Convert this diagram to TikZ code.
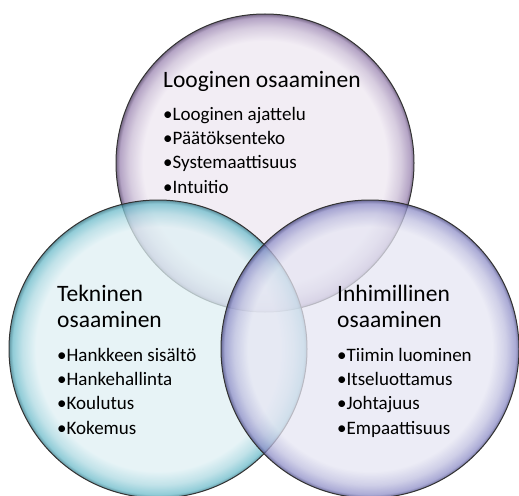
\documentclass[tikz,border=0pt]{standalone}
\usepackage{fontspec}
\setmainfont{Carlito}
\usetikzlibrary{positioning}

\definecolor{topfill}{HTML}{EEE7F1}
\definecolor{topedge}{HTML}{9C86B2}
\definecolor{topdark}{HTML}{4E3A64}
\definecolor{leftfill}{HTML}{DFF0F4}
\definecolor{leftedge}{HTML}{6DBCCB}
\definecolor{leftdark}{HTML}{2E7585}
\definecolor{rightfill}{HTML}{E6E6F3}
\definecolor{rightedge}{HTML}{8F8FC8}
\definecolor{rightdark}{HTML}{42427E}

\pgfdeclareradialshading{topball}{\pgfpoint{0bp}{0bp}}{color(0bp)=(topfill); color(20.5bp)=(topfill); color(22.8bp)=(topfill!55!topedge); color(24.4bp)=(topedge); color(25bp)=(topdark); color(50bp)=(topdark)}
\pgfdeclareradialshading{leftball}{\pgfpoint{0bp}{0bp}}{color(0bp)=(leftfill); color(20.5bp)=(leftfill); color(22.8bp)=(leftfill!55!leftedge); color(24.4bp)=(leftedge); color(25bp)=(leftdark); color(50bp)=(leftdark)}
\pgfdeclareradialshading{rightball}{\pgfpoint{0bp}{0bp}}{color(0bp)=(rightfill); color(20.5bp)=(rightfill); color(22.8bp)=(rightfill!55!rightedge); color(24.4bp)=(rightedge); color(25bp)=(rightdark); color(50bp)=(rightdark)}

\newcommand{\lines}[1]{\begin{tabular}[t]{@{}l@{}}#1\end{tabular}}

\begin{document}
\begin{tikzpicture}[x=1pt,y=-1pt,
      bubble/.style={circle, draw=black!80, line width=1pt, inner sep=0pt,
         minimum size=298pt, fill opacity=0.75},
      head/.style={anchor=base west, inner sep=0pt,
         font=\fontsize{23.5}{26.5}\selectfont},
      items/.style={anchor=base west, inner sep=0pt,
         font=\fontsize{19}{24.4}\selectfont}]
   \fill [white] (0,0) rectangle (519,495);
   \useasboundingbox (0,0) rectangle (519,495);

   \node [bubble, shading=topball] at (265,163) (looginen) {};
   \node [bubble, shading=leftball] at (158,349) (tekninen) {};
   \node [bubble, shading=rightball] at (370,349) (inhimillinen) {};

   \node [head] at (163,87) (loogHead) {Looginen osaaminen};
   \node [items] at (163,120) (loogList) {\lines{•Looginen ajattelu\\ •Päätöksenteko\\ •Systemaattisuus\\ •Intuitio}};

   \node [head] at (57,301) (tekHead) {\lines{Tekninen\\ osaaminen}};
   \node [items] at (57,361) (tekList) {\lines{•Hankkeen sisältö\\ •Hankehallinta\\ •Koulutus\\ •Kokemus}};

   \node [head] at (337,301) (inhHead) {\lines{Inhimillinen\\ osaaminen}};
   \node [items] at (337,361) (inhList) {\lines{•Tiimin luominen\\ •Itseluottamus\\ •Johtajuus\\ •Empaattisuus}};
\end{tikzpicture}
\end{document}
